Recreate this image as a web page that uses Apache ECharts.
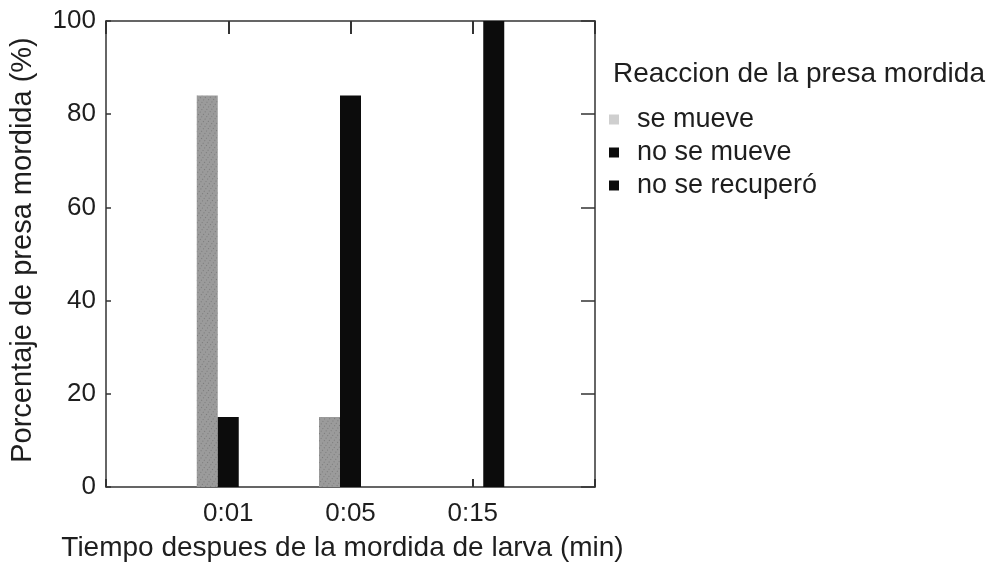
<!DOCTYPE html>
<html>
<head>
<meta charset="utf-8">
<script src="https://cdn.jsdelivr.net/npm/echarts@6/dist/echarts.min.js"></script>
<style>
html,body{margin:0;padding:0;background:#fff;}
#chart{width:995px;height:567px;}
</style>
</head>
<body>
<div id="chart"></div>
<script>
// Data
var categories = ['0:01', '0:05', '0:15'];
var seMueve = [84, 15, null];
var noSeMueve = [15, 84, null];
var noSeRecupero = [null, null, 100];
var yTicks = [0, 20, 40, 60, 80, 100];
var seriesNames = ['se mueve', 'no se mueve', 'no se recuperó'];
var legendTitle = 'Reaccion de la presa mordida';
var xTitle = 'Tiempo despues de la mordida de larva (min)';
var yTitle = 'Porcentaje de presa mordida (%)';

// padded category list (axis extends half a slot past first/last bar group)
var xData = [''].concat(categories).concat(['']);
function pad(arr) { return [null].concat(arr).concat([null]); }

var FONT = '"Liberation Sans", Arial, Helvetica, sans-serif';
var AX = '#333333';
var TXT = '#1e1e1e';

var chart = echarts.init(document.getElementById('chart'));

chart.setOption({
  animation: false,
  backgroundColor: '#ffffff',
  grid: { left: 106, right: 400, top: 21, bottom: 77 },
  title: {
    text: legendTitle,
    left: 608, top: 55,
    textStyle: { fontFamily: FONT, fontSize: 28, fontWeight: 'normal', color: TXT }
  },
  legend: {
    orient: 'vertical',
    left: 604, top: 101,
    itemWidth: 10, itemHeight: 10, itemGap: 6,
    icon: 'rect',
    textStyle: { fontFamily: FONT, fontSize: 27, color: TXT, lineHeight: 26, padding: [0, 0, 0, 13] },
    data: [
      { name: seriesNames[0], itemStyle: { color: '#cfcfcf', decal: 'none' } },
      { name: seriesNames[1] },
      { name: seriesNames[2] }
    ]
  },
  xAxis: [
    {
      type: 'category', data: xData, boundaryGap: false, position: 'bottom',
      axisLine: { onZero: false, lineStyle: { color: AX, width: 1.5 } },
      axisTick: { show: true, inside: true, length: 8, interval: 0, lineStyle: { color: AX, width: 2 } },
      axisLabel: { interval: 0, margin: 14, fontFamily: FONT, fontSize: 26, color: TXT },
      name: xTitle, nameLocation: 'middle', nameGap: 47,
      nameTextStyle: { fontFamily: FONT, fontSize: 28, color: TXT, padding: [0, 16, 0, 0] }
    },
    {
      type: 'category', data: xData, boundaryGap: false, position: 'top',
      axisLine: { show: true, onZero: false, lineStyle: { color: AX, width: 1.5 } },
      axisTick: { show: true, inside: true, length: 13, interval: 0, lineStyle: { color: AX, width: 2 } },
      axisLabel: { show: false }
    }
  ],
  yAxis: [
    {
      type: 'value', min: 0, max: 100, interval: 20, position: 'left',
      axisLine: { show: true, onZero: false, lineStyle: { color: AX, width: 1.5 } },
      axisTick: { show: true, inside: true, length: 5, lineStyle: { color: AX, width: 1.5 } },
      axisLabel: { margin: 10, fontFamily: FONT, fontSize: 26, color: TXT },
      splitLine: { show: false },
      name: yTitle, nameLocation: 'middle', nameGap: 69,
      nameTextStyle: { fontFamily: FONT, fontSize: 29, color: TXT, padding: [0, 0, 0, 8] }
    },
    {
      type: 'value', min: 0, max: 100, interval: 20, position: 'right',
      axisLine: { show: true, onZero: false, lineStyle: { color: AX, width: 1.5 } },
      axisTick: { show: true, inside: true, length: 14, lineStyle: { color: AX, width: 1.5 } },
      axisLabel: { show: false },
      splitLine: { show: false }
    }
  ],
  series: [
    {
      name: seriesNames[0], type: 'bar', data: pad(seMueve),
      barWidth: 21, barGap: '0%',
      itemStyle: {
        color: '#9b9b9b',
        decal: { symbol: 'rect', symbolSize: 1, color: 'rgba(60,60,60,0.35)', dashArrayX: [1, 3], dashArrayY: [1, 2], rotation: 0.6 }
      }
    },
    {
      name: seriesNames[1], type: 'bar', data: pad(noSeMueve),
      barWidth: 21, barGap: '0%',
      itemStyle: { color: '#0c0c0c' }
    },
    {
      name: seriesNames[2], type: 'bar', data: pad(noSeRecupero),
      barWidth: 21, barGap: '0%',
      itemStyle: { color: '#0c0c0c' }
    }
  ]
});
</script>
</body>
</html>
